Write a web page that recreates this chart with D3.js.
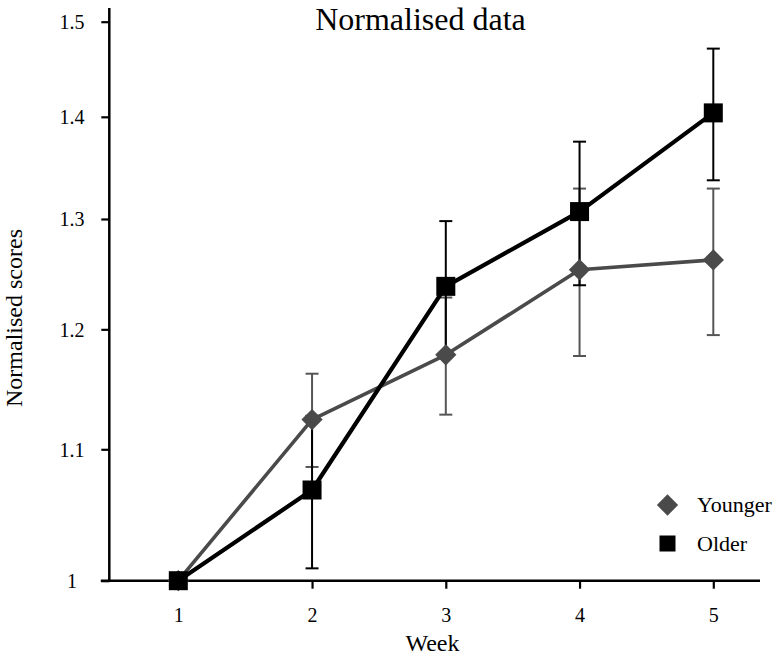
<!DOCTYPE html>
<html><head><meta charset="utf-8">
<script src="https://cdn.jsdelivr.net/npm/d3@7/dist/d3.min.js"></script>
<style>body{margin:0;background:#fff}</style>
</head><body><svg id="c" width="784" height="655"></svg>
<script>
// ---- data ----
const weeks = [1, 2, 3, 4, 5];
const youngerMean = [1.000, 1.124, 1.178, 1.253, 1.262];
const youngerErr  = [0, 0.038, 0.050, 0.076, 0.067];
const olderMean   = [1.000, 1.068, 1.238, 1.307, 1.404];
const olderErr    = [0, 0.059, 0.060, 0.068, 0.067];
const yTicks = [1, 1.1, 1.2, 1.3, 1.4, 1.5];
const seriesNames = ["Younger", "Older"];
const titleText = "Normalised data";
const xTitle = "Week";
const yTitle = "Normalised scores";

const FONT = "'Liberation Serif','Times New Roman',serif";
const svg = d3.select("#c");
svg.append("rect").attr("width",784).attr("height",655).attr("fill","#fff");

const x = d3.scaleLinear().domain([1,5]).range([178.3,713.3]);
const y = d3.scaleLog().domain([1,1.5]).range([580.7,21.7]);
const axisX = 109.3;

const series = [
  {name: seriesNames[0], mean: youngerMean, err: youngerErr, color:"#4a4a4a", bar:"#555555", lw:3.6, sym:"diamond"},
  {name: seriesNames[1], mean: olderMean, err: olderErr, color:"#000000", bar:"#000000", lw:4.2, sym:"square"}
];

// ---- axes ----
const gy = svg.append("g").attr("transform",`translate(${axisX},0)`)
  .call(d3.axisLeft(y).tickValues(yTicks).tickSize(8).tickFormat(d=>String(d)));
gy.select(".domain").remove();
gy.selectAll(".tick line").attr("stroke","#000").attr("stroke-width",2.2);
gy.selectAll(".tick text").attr("x",72-axisX).attr("text-anchor","middle").attr("dy","0.34em")
  .style("font-family",FONT).style("font-size","20px").attr("fill","#000");
svg.append("line").attr("x1",axisX).attr("x2",axisX).attr("y1",8).attr("y2",y(1)+1)
  .attr("stroke","#000").attr("stroke-width",2.5);

const gx = svg.append("g").attr("transform",`translate(0,${y(1)})`)
  .call(d3.axisBottom(x).tickValues(weeks).tickSize(8).tickFormat(d=>String(d)));
gx.select(".domain").remove();
gx.selectAll(".tick line").attr("stroke","#000").attr("stroke-width",2.2);
gx.selectAll(".tick text").attr("y",41.5).attr("dy",0)
  .style("font-family",FONT).style("font-size","20px").attr("fill","#000");
svg.append("line").attr("x1",axisX-8.5).attr("x2",760).attr("y1",y(1)).attr("y2",y(1))
  .attr("stroke","#000").attr("stroke-width",2.5);

// ---- error bars ----
series.forEach(s=>{
  const g = svg.append("g");
  weeks.forEach((w,i)=>{
    if(!s.err[i]) return;
    const hi = y(s.mean[i]+s.err[i]), lo = y(s.mean[i]-s.err[i]), cx = x(w);
    g.append("line").attr("x1",cx).attr("x2",cx).attr("y1",hi).attr("y2",lo)
      .attr("stroke",s.bar).attr("stroke-width",2);
    [hi,lo].forEach(v=>g.append("line").attr("x1",cx-6.5).attr("x2",cx+6.5).attr("y1",v).attr("y2",v)
      .attr("stroke",s.bar).attr("stroke-width",2));
  });
});

// ---- lines ----
series.forEach(s=>{
  const line = d3.line().x((d,i)=>x(weeks[i])).y(d=>y(d));
  svg.append("path").datum(s.mean).attr("d",line).attr("fill","none")
    .attr("stroke",s.color).attr("stroke-width",s.lw).attr("stroke-linejoin","round");
});

// ---- markers ----
function marker(g, sym, cx, cy, size, color){
  if(sym==="square"){
    g.append("rect").attr("x",cx-size/2).attr("y",cy-size/2).attr("width",size).attr("height",size).attr("fill",color);
  } else {
    const r = size*0.56;
    g.append("path").attr("d",`M${cx},${cy-r}L${cx+r},${cy}L${cx},${cy+r}L${cx-r},${cy}Z`).attr("fill",color);
  }
}
series.forEach(s=>{
  const g = svg.append("g");
  weeks.forEach((w,i)=>marker(g, s.sym, x(w), y(s.mean[i]), 19, s.color));
});

// ---- legend ----
const lg = svg.append("g");
series.forEach((s,i)=>{
  const ly = 505 + i*38.5;
  marker(lg, s.sym, 667.5, ly, s.sym==="square"?16:19, s.color);
  lg.append("text").attr("x",697).attr("y",ly+7).text(s.name)
    .style("font-family",FONT).style("font-size","22px").attr("fill","#000");
});

// ---- titles ----
svg.append("text").attr("x",420.5).attr("y",30).attr("text-anchor","middle").text(titleText)
  .style("font-family",FONT).style("font-size","32px").attr("fill","#000");
svg.append("text").attr("x",432.5).attr("y",651).attr("text-anchor","middle").text(xTitle)
  .style("font-family",FONT).style("font-size","24px").attr("fill","#000");
svg.append("text").attr("transform","translate(22,318) rotate(-90)").attr("text-anchor","middle").text(yTitle)
  .style("font-family",FONT).style("font-size","24px").attr("fill","#000");
</script></body></html>
